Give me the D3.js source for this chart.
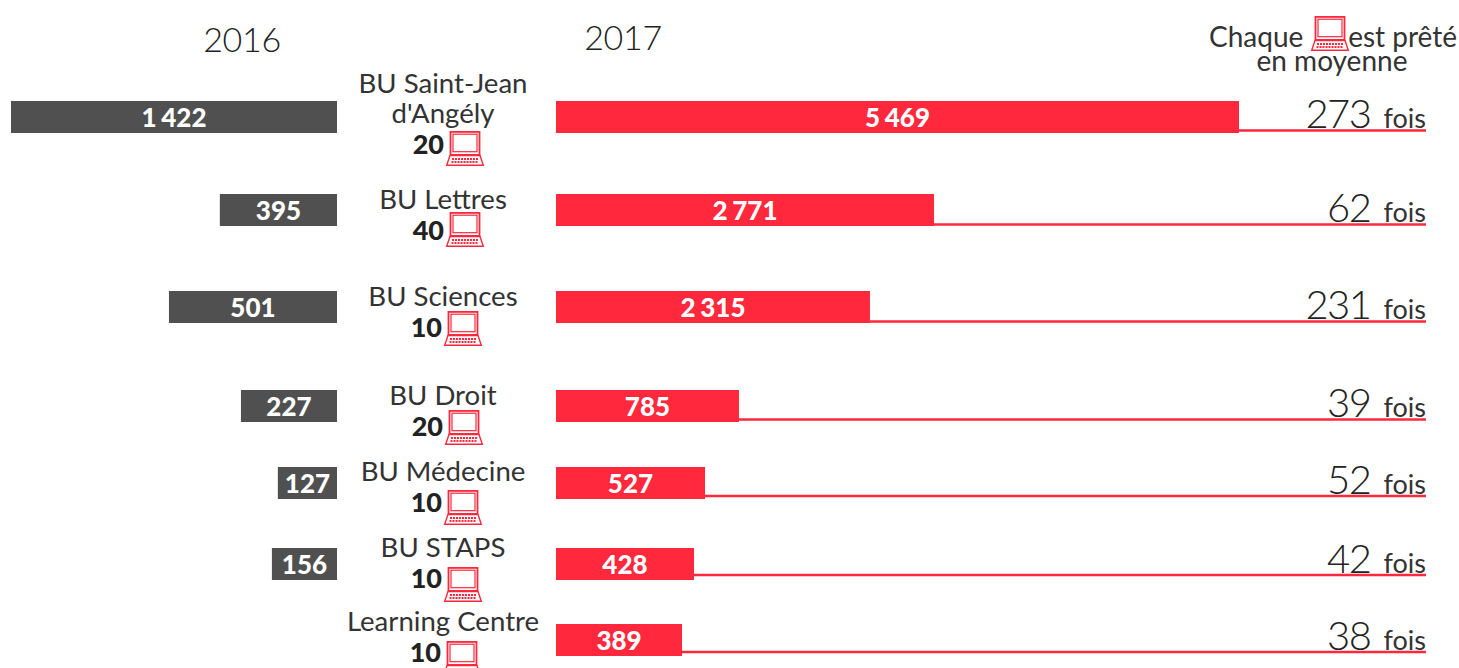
<!DOCTYPE html>
<html>
<head>
<meta charset="utf-8">
<script src="https://cdn.jsdelivr.net/npm/d3@7"></script>
<style>
  html, body { margin: 0; padding: 0; background: #fff; overflow: hidden; }
  text { font-family: Lato, "Open Sans", sans-serif; fill: #333; }
</style>
</head>
<body>
<div id="chart"></div>
<script>
const RED = '#ff283c'
const GREY = '#505050'

const libraries = ['BU Saint-Jean', 'BU Lettres', 'BU Sciences', 'BU Droit', 'BU Médecine', 'BU STAPS', 'Learning Centre']
const nameSecondLine = ["d'Angély", '', '', '', '', '', '']
const laptops = [20, 40, 10, 20, 10, 10, 10]
const labels2016 = ['1 422', '395', '501', '227', '127', '156', null]
const labels2017 = ['5 469', '2 771', '2 315', '785', '527', '428', '389']
const timesLent = [273, 62, 231, 39, 52, 42, 38]

// the bars in the picture are not proportional to their labels, so the lengths
// are read separately, in the units of the longest bar of each year
const drawn2016 = [1422, 511, 733, 419, 258, 284, null]
const drawn2017 = [5469, 3027, 2514, 1465, 1193, 1105, 1009]

const width = 1459
const height = 668

const svg = d3.select('#chart').append('svg')
  .attr('width', width)
  .attr('height', height)
  .style('display', 'block')

const x2016 = d3.scaleLinear().domain([0, 1422]).range([337, 11])
const x2017 = d3.scaleLinear().domain([0, 5469]).range([556, 1239])
const LINE_END = 1426
const BAR_HEIGHT = 32

// rows are unevenly spaced in the original
const rowTop = d3.scaleOrdinal().domain(libraries).range([101, 194, 291, 390, 467, 548, 624])
const lineY = d3.scaleOrdinal().domain(libraries).range([130.5, 224.5, 321.5, 419.5, 496, 575, 652])
const nameY = d3.scaleOrdinal().domain(libraries).range([93, 209, 306, 405, 481, 557, 631])
const iconTop = d3.scaleOrdinal().domain(libraries).range([131, 212, 311, 410, 490, 567, 641])
const iconLeft = d3.scaleOrdinal().domain(libraries).range([446, 446, 444, 445, 444, 444, 443])

function drawLaptop (parent, x, y) {
  const g = parent.append('g')
    .attr('transform', 'translate(' + x + ',' + y + ')')
    .attr('fill', 'none')
    .attr('stroke', RED)
  g.append('rect').attr('x', 4.5).attr('y', 0.9).attr('width', 29).attr('height', 23).attr('stroke-width', 1.8)
  g.append('rect').attr('x', 7).attr('y', 3.2).attr('width', 24).attr('height', 17.5).attr('stroke-width', 1.2)
  g.append('path').attr('d', 'M4 24.5L0.7 34.3H37.3L34 24.5Z').attr('stroke-width', 1.4)
  g.append('path').attr('d', 'M6 28H32M5.5 31H32.5').attr('stroke-width', 1.8).attr('stroke-dasharray', '2 1')
}

// Headers
svg.append('text').attr('x', 242).attr('y', 52).attr('text-anchor', 'middle')
  .attr('font-size', 34).attr('font-weight', 300).style('fill', '#222').style('letter-spacing', '-0.3px').text('2016')
svg.append('text').attr('x', 623).attr('y', 50).attr('text-anchor', 'middle')
  .attr('font-size', 34).attr('font-weight', 300).style('fill', '#222').style('letter-spacing', '-0.3px').text('2017')
svg.append('text').attr('x', 1209).attr('y', 47).attr('font-size', 28).text('Chaque')
svg.append('text').attr('x', 1457).attr('y', 47).attr('text-anchor', 'end').attr('font-size', 28).text('est prêté')
svg.append('text').attr('x', 1332).attr('y', 71).attr('text-anchor', 'middle').attr('font-size', 28).text('en moyenne')
drawLaptop(svg, 1311, 16)

libraries.forEach((name, i) => {
  const top = rowTop(name)

  // 2016 bar
  if (drawn2016[i] !== null) {
    svg.append('rect')
      .attr('x', x2016(drawn2016[i]))
      .attr('y', top)
      .attr('width', x2016(0) - x2016(drawn2016[i]))
      .attr('height', BAR_HEIGHT)
      .attr('fill', GREY)
    svg.append('text')
      .attr('x', (x2016(0) + x2016(drawn2016[i])) / 2)
      .attr('y', top + 26)
      .attr('text-anchor', 'middle')
      .attr('font-size', 26)
      .attr('font-weight', 900)
      .style('fill', '#fff')
      .style('word-spacing', '-1.5px')
      .text(labels2016[i])
  }

  // 2017 bar and its line up to the right edge
  svg.append('rect')
    .attr('x', x2017(0))
    .attr('y', top)
    .attr('width', x2017(drawn2017[i]) - x2017(0))
    .attr('height', BAR_HEIGHT)
    .attr('fill', RED)
  svg.append('line')
    .attr('x1', x2017(drawn2017[i]))
    .attr('x2', LINE_END)
    .attr('y1', lineY(name))
    .attr('y2', lineY(name))
    .attr('stroke', RED)
    .attr('stroke-width', 2.5)
  svg.append('text')
    .attr('x', (x2017(0) + x2017(drawn2017[i])) / 2)
    .attr('y', top + 26)
    .attr('text-anchor', 'middle')
    .attr('font-size', 26)
    .attr('font-weight', 900)
    .style('fill', '#fff')
    .style('word-spacing', '-1.5px')
    .text(labels2017[i])

  // times lent
  const lent = svg.append('text')
    .attr('x', LINE_END)
    .attr('y', lineY(name) - 2.5)
    .attr('text-anchor', 'end')
  lent.append('tspan').attr('font-size', 40).attr('font-weight', 300).style('fill', '#222').style('letter-spacing', '-1.5px').text(timesLent[i])
  lent.append('tspan').attr('font-size', 27).attr('dx', 13).text('fois')

  // library name, laptop count and icon
  const y = nameY(name)
  svg.append('text').attr('x', 443).attr('y', y).attr('text-anchor', 'middle').attr('font-size', 27.6).text(name)
  let lastLine = y
  if (nameSecondLine[i]) {
    lastLine = y + 30
    svg.append('text').attr('x', 443).attr('y', lastLine).attr('text-anchor', 'middle').attr('font-size', 27.6).text(nameSecondLine[i])
  }
  svg.append('text')
    .attr('x', iconLeft(name) - 2)
    .attr('y', lastLine + 31)
    .attr('text-anchor', 'end')
    .attr('font-size', 27)
    .attr('font-weight', 900)
    .style('fill', '#222')
    .text(laptops[i])
  drawLaptop(svg, iconLeft(name), iconTop(name))
})
</script>
</body>
</html>
